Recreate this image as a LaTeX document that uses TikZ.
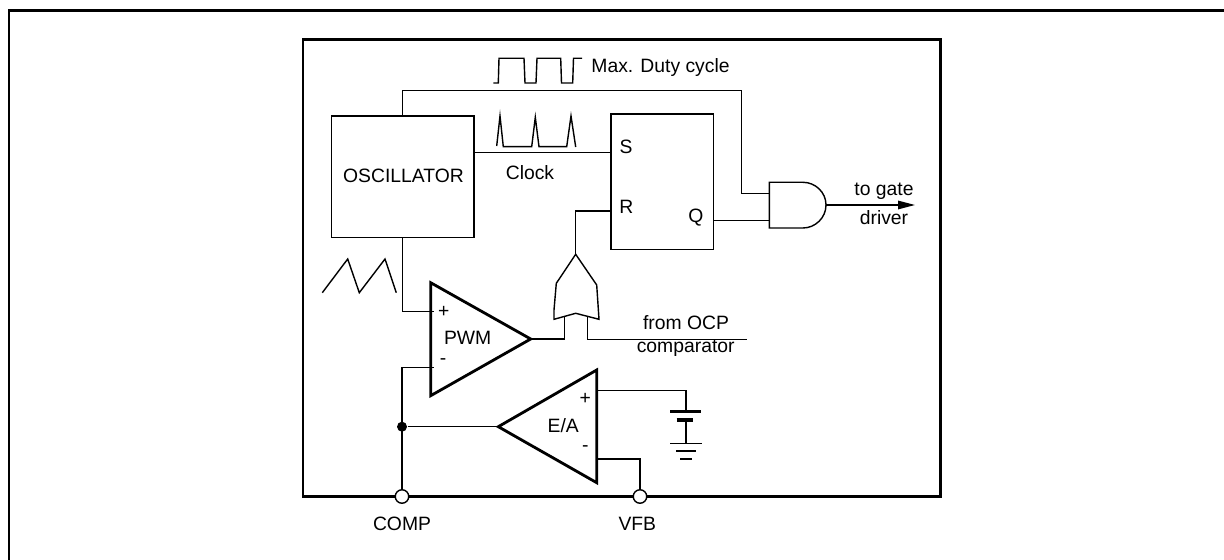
\documentclass[tikz,border=0pt]{standalone}
\usepackage{fontspec}
\setmainfont{Liberation Sans}
\usetikzlibrary{arrows.meta,calc}

\begin{document}
\begin{tikzpicture}[>=Stealth, x=0.02cm, y=-0.02cm, line width=0.8pt, line join=miter,
    font=\fontsize{11}{13}\selectfont,
    label/.style={inner sep=0pt, anchor=center},
    blockbox/.style={draw, inner sep=0pt, anchor=center},
    pinnode/.style={draw, circle, fill=white, inner sep=0pt, minimum size=0.27cm, line width=0.8pt},
    amp/.style={line width=1.6pt},
    frameline/.style={line width=1.7pt}]
    \useasboundingbox (0,0) rectangle (1224,560);

    % outer page border
    \draw[line width=1.15pt] (9,560) -- (9,10.5) -- (1224,10.5);

    % chip outline
    \draw[frameline] (303,39.5) rectangle (940.7,496.7);

    % main blocks
    \node[blockbox, minimum width=2.85cm, minimum height=2.434cm] (osc) at (402.75,176.9) {};
    \node[label] (osctext) at (403.5,175.7) {OSCILLATOR};
    \node[blockbox, minimum width=2.054cm, minimum height=2.706cm] (ff) at (662.3,181.6) {};
    \node[label] (ffS) at (626,147.3) {S};
    \node[label] (ffR) at (626.3,207.3) {R};
    \node[label] (ffQ) at (696,217.3) {Q};

    % AND gate
    \coordinate (andA) at (769.3,193.3);
    \coordinate (andB) at (769.3,220.3);
    \coordinate (andO) at (826,205);
    \draw (769.3,182.3) -- (803,182.3) .. controls (815,182.3) and (826,192) .. (andO)
          .. controls (826,218) and (815,228) .. (803,228) -- (769.3,228) -- cycle;

    % OR gate
    \coordinate (orO) at (575.7,254.3);
    \coordinate (orA) at (564.3,316.3);
    \coordinate (orB) at (587.7,316.3);
    \draw (orO) -- (556.3,283.3) -- (554,310) -- (554,319.3) -- (575.7,313.3)
          -- (599,319.3) -- (596.7,285) -- cycle;

    % PWM comparator
    \coordinate (pwmT) at (430.7,282.7);
    \coordinate (pwmB) at (430.7,395.7);
    \coordinate (pwmO) at (530.7,339);
    \draw[amp] (pwmT) -- (pwmO) -- (pwmB) -- cycle;
    \node[label] (pwmP) at (443.7,312) {+};
    \node[label] (pwmM) at (443,362) {-};
    \node[label] (pwmtext) at (467.7,338.3) {PWM};

    % error amplifier
    \coordinate (eaT) at (596.7,370);
    \coordinate (eaB) at (596.7,482.7);
    \coordinate (eaO) at (498.3,426.7);
    \draw[amp] (eaT) -- (eaO) -- (eaB) -- cycle;
    \node[label] (eaP) at (585.3,399.3) {+};
    \node[label] (eaM) at (585.3,449) {-};
    \node[label] (eatext) at (563.3,426) {E/A};

    % pins
    \node[pinnode] (comp) at (402,496.5) {};
    \node[pinnode] (vfb) at (640,496.5) {};
    \node[label] (comptext) at (402,524) {COMP};
    \node[label] (vfbtext) at (637.3,524) {VFB};
    \node[circle, fill, inner sep=0pt, minimum size=0.2cm] (jun) at (402,426.7) {};

    % wiring
    \draw (osc.north) |- (741.7,90.3) |- (andA);
    \draw (osc.east |- 0,152.3) -- (ff.west |- 0,152.3);
    \draw (ff.east |- andB) -- (andB);
    \draw (ff.west |- 0,211) -| (orO);
    \draw (osc.south) |- (433.5,311.7);
    \draw (433.5,367.7) -| (comp);
    \draw (jun) -- (eaO);
    \draw (pwmO) -| (orA);
    \draw (orB) |- (746.7,339.7);
    \draw (eaT |- 0,459) -| (vfb);
    \draw[-{Triangle[length=0.34cm,width=0.17cm]}] (andO) -- (915,205);

    % reference source and ground
    \coordinate (batP) at (686,411.7);
    \coordinate (batM) at (686,419.7);
    \coordinate (gnd) at (686,443.5);
    \draw (eaT |- 0,390.7) -| (batP);
    \draw (batM) -- (gnd);
    \draw[line width=1.4pt] (670,411.7) -- (701,411.7);
    \draw[line width=2.3pt] (676.7,419.7) -- (692.7,419.7);
    \draw (670,443.5) -- (702,443.5);
    \draw (676,451) -- (696,451);
    \draw (680,459) -- (692,459);

    % waveforms
    \draw (493.3,83) -- (498.3,83) -- (499,58.3) -- (524,58.3) -- (525,83) -- (536,83)
          -- (537,58.3) -- (560.7,58.3) -- (561.5,83) -- (572.7,83) -- (573.5,58.3) -- (582,58.3);
    \draw (496.7,146) -- (500,116) -- (503.3,146.7) -- (531.7,146.7) -- (535.3,117.3)
          -- (539,146.7) -- (566.7,146.7) -- (571,116) -- (575.7,147);
    \draw (322.3,292.7) -- (347.7,259) -- (359.3,292.7) -- (385,259) -- (396.3,292.7);

    % labels
    \node[label, anchor=west] (dutytext) at (590.7,68) {Max. Duty cycle};
    \node[label] (clocktext) at (530,172.3) {Clock};
    \node[label] (gatetext) at (884,191.7) {to gate};
    \node[label] (drivertext) at (884,217.3) {driver};
    \node[label] (ocptext) at (686,323) {from OCP};
    \node[label] (cmptext) at (685.7,348) {comparator};
\end{tikzpicture}
\end{document}
